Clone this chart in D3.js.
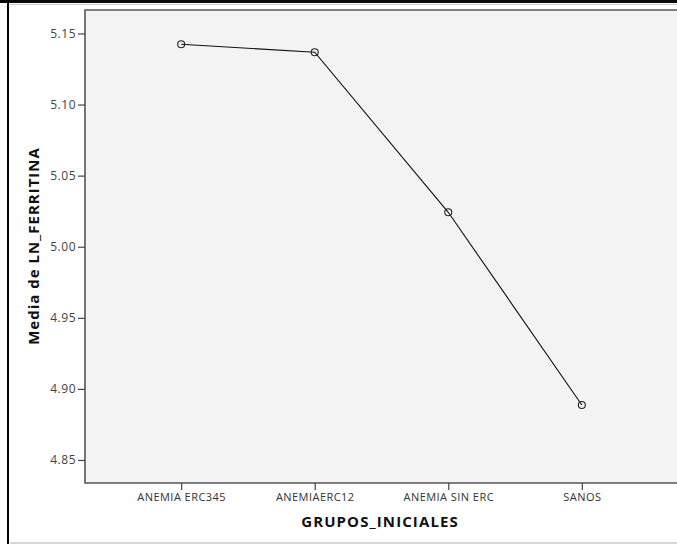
<!DOCTYPE html>
<html>
<head>
<meta charset="utf-8">
<script src="https://cdn.jsdelivr.net/npm/d3@7/dist/d3.min.js"></script>
<style>
html,body{margin:0;padding:0;background:#fff;}
svg{display:block;}
</style>
</head>
<body>
<svg id="chart" width="677" height="544"></svg>
<script>
const categories = ["ANEMIA ERC345", "ANEMIAERC12", "ANEMIA SIN ERC", "SANOS"];
const means = [5.1424, 5.1368, 5.0242, 4.8887];
const yTicks = [4.85, 4.90, 4.95, 5.00, 5.05, 5.10, 5.15];
const xTitle = "GRUPOS_INICIALES";
const yTitle = "Media de LN_FERRITINA";

const svg = d3.select("#chart");
const W = 677, H = 544;
const plot = {left: 85, top: 10, right: 678, bottom: 483};
const FONT = "'Open Sans', 'Liberation Sans', Arial, sans-serif";

// frame decorations
svg.append("rect").attr("x", 0).attr("y", 0).attr("width", W).attr("height", 3).attr("fill", "#0a0a0a");
svg.append("rect").attr("x", 7).attr("y", 0).attr("width", 2).attr("height", H).attr("fill", "#000");
svg.append("line").attr("x1", 10).attr("x2", W).attr("y1", 4.5).attr("y2", 4.5).attr("stroke", "#cfcfcf").attr("stroke-width", 1);
svg.append("line").attr("x1", 10).attr("x2", W).attr("y1", 543).attr("y2", 543).attr("stroke", "#c8c8c8").attr("stroke-width", 1.5);

const x = d3.scalePoint().domain(categories).range([plot.left, plot.right]).padding(0.72);
const y = d3.scaleLinear().domain([4.8338, 5.1665]).range([plot.bottom, plot.top]);

svg.append("rect").attr("x", plot.left).attr("y", plot.top)
  .attr("width", plot.right - plot.left).attr("height", plot.bottom - plot.top)
  .attr("fill", "#f3f3f3");

// plot border (top, left, bottom)
const border = svg.append("g").attr("stroke", "#555").attr("stroke-width", 1.6).attr("fill", "none");
border.append("path").attr("d", `M${plot.right},${plot.top}H${plot.left}V${plot.bottom}H${plot.right}`);

// y axis
const yAxis = d3.axisLeft(y).tickValues(yTicks).tickFormat(d3.format(".2f")).tickSize(7).tickPadding(2);
const gy = svg.append("g").attr("transform", `translate(${plot.left},0)`).call(yAxis);
gy.select(".domain").remove();
gy.selectAll(".tick line").attr("stroke", "#444").attr("stroke-width", 1.2);
gy.selectAll(".tick text").attr("fill", "#444").style("font-family", FONT).style("font-size", "12px").style("letter-spacing", "0.5px");

// x axis
const xAxis = d3.axisBottom(x).tickSize(7).tickPadding(3);
const gx = svg.append("g").attr("transform", `translate(0,${plot.bottom})`).call(xAxis);
gx.select(".domain").remove();
gx.selectAll(".tick line").attr("stroke", "#444").attr("stroke-width", 1.2);
gx.selectAll(".tick text").attr("fill", "#333").style("font-family", FONT).style("font-size", "11px").style("letter-spacing", "0.45px");

// line
const line = d3.line().x((d, i) => x(categories[i])).y(d => y(d));
svg.append("path").datum(means).attr("d", line).attr("fill", "none").attr("stroke", "#111").attr("stroke-width", 1.1);
svg.selectAll("circle.pt").data(means).enter().append("circle").attr("class", "pt")
  .attr("cx", (d, i) => x(categories[i])).attr("cy", d => y(d)).attr("r", 3.5)
  .attr("fill", "none").attr("stroke", "#222").attr("stroke-width", 1.1);

// titles
svg.append("text").attr("x", 380).attr("y", 527).attr("text-anchor", "middle")
  .style("font-family", FONT).style("font-weight", "bold").style("font-size", "15px").style("letter-spacing", "1.1px")
  .attr("fill", "#111").text(xTitle);
svg.append("text").attr("transform", "translate(39,246) rotate(-90)").attr("text-anchor", "middle")
  .style("font-family", FONT).style("font-weight", "bold").style("font-size", "15px").style("letter-spacing", "1px")
  .attr("fill", "#111").text(yTitle);
</script>
</body>
</html>
